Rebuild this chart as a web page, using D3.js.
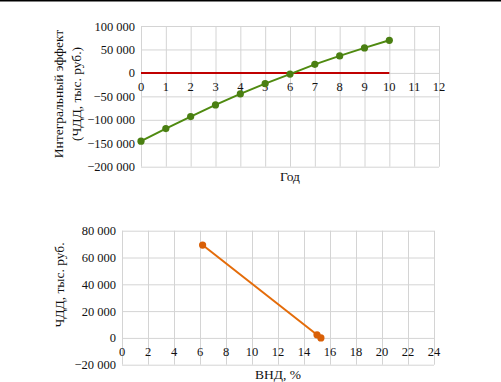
<!DOCTYPE html>
<html>
<head>
<meta charset="utf-8">
<script src="https://cdn.jsdelivr.net/npm/d3@7"></script>
<style>
  body { margin: 0; background: #fff; }
  svg, svg text { font-family: "Liberation Serif", "DejaVu Serif", serif; }
  svg { display: block; }
  .grid line { stroke: #d4d4d4; stroke-width: 1; }
  .grid path { display: none; }
  .tick text { font-size: 12.5px; fill: #111; }
  .title { font-size: 13.5px; fill: #111; }
</style>
</head>
<body>
<svg id="chart" width="501" height="382"></svg>
<script>
// Top chart: integral effect (NPV) by year
const years = [0, 1, 2, 3, 4, 5, 6, 7, 8, 9, 10];
const npv = [-145500, -118800, -93200, -68300, -44800, -22800, -2500, 18300, 36200, 53300, 69500];
const zeroLine = [[0, 0], [10, 0]];
const yearTicks = d3.range(0, 13, 1);
const npvTicks = [-200000, -150000, -100000, -50000, 0, 50000, 100000];

// Bottom chart: NPV vs IRR
const irr = [6.2, 15.0, 15.3];
const npvIrr = [69300, 2300, 0];
const irrTicks = d3.range(0, 25, 2);
const npvIrrTicks = [-20000, 0, 20000, 40000, 60000, 80000];

const loc = d3.formatLocale({decimal: ",", thousands: "\u00a0", grouping: [3], currency: ["", ""], minus: "\u2212"});
const fmt = loc.format(",d");

const svg = d3.select('#chart');

// thin frame line at the top
svg.append('line')
    .attr('x1', 0).attr('x2', 501)
    .attr('y1', 0.75).attr('y2', 0.75)
    .attr('stroke', '#000').attr('stroke-width', 1.5);

function drawChart(opt) {
    const x = d3.scaleLinear().domain(opt.xDomain).range(opt.xRange);
    const y = d3.scaleLinear().domain(opt.yDomain).range(opt.yRange);
    const g = svg.append('g');

    // vertical grid
    g.append('g')
        .attr('class', 'grid')
        .attr('transform', `translate(0,${opt.yRange[0]})`)
        .call(d3.axisBottom(x).tickValues(opt.xTicks)
            .tickSize(opt.yRange[1] - opt.yRange[0]).tickFormat(''));

    // horizontal grid + y labels
    const ya = g.append('g')
        .attr('class', 'grid')
        .attr('transform', `translate(${opt.xRange[0]},0)`)
        .call(d3.axisLeft(y).tickValues(opt.yTicks)
            .tickSize(opt.xRange[0] - opt.xRange[1]).tickFormat(fmt));
    ya.attr('font-family', null).attr('font-size', null);
    ya.selectAll('.tick text').attr('x', -6);

    // x labels sit under the zero line
    g.selectAll('.xlab')
        .data(opt.xTicks)
        .join('text')
        .attr('class', 'xlab')
        .attr('x', d => x(d))
        .attr('y', y(0) + 18)
        .attr('text-anchor', 'middle')
        .style('font-size', '12.5px')
        .attr('fill', '#111')
        .text(d => d);

    opt.draw(g, x, y);

    // axis titles
    g.append('text')
        .attr('class', 'title')
        .attr('x', (opt.xRange[0] + opt.xRange[1]) / 2)
        .attr('y', opt.xTitleY)
        .attr('text-anchor', 'middle')
        .text(opt.xTitle);

    opt.yTitle.forEach((t, i) => {
        g.append('text')
            .attr('class', 'title')
            .attr('transform', `translate(${opt.yTitleX[i]},${opt.yTitleCy}) rotate(-90)`)
            .attr('text-anchor', 'middle')
            .attr('dominant-baseline', 'middle')
            .text(t);
    });
}

drawChart({
    xDomain: [0, 12], xRange: [141, 439],
    yDomain: [-200000, 100000], yRange: [166.7, 26],
    xTicks: yearTicks, yTicks: npvTicks,
    xTitle: 'Год', xTitleY: 181,
    yTitle: ['Интегральный эффект', '(ЧДД, тыс. руб.)'],
    yTitleX: [60, 78], yTitleCy: 94,
    draw(g, x, y) {
        g.append('path')
            .datum(zeroLine)
            .attr('fill', 'none')
            .attr('stroke', '#c00000')
            .attr('stroke-width', 2)
            .attr('d', d3.line().x(d => x(d[0])).y(d => y(d[1])));
        const pts = years.map((d, i) => [d, npv[i]]);
        g.append('path')
            .datum(pts)
            .attr('fill', 'none')
            .attr('stroke', '#4f8a10')
            .attr('stroke-width', 2)
            .attr('d', d3.line().x(d => x(d[0])).y(d => y(d[1])));
        g.selectAll('.dot')
            .data(pts)
            .join('circle')
            .attr('cx', d => x(d[0]))
            .attr('cy', d => y(d[1]))
            .attr('r', 3.6)
            .attr('fill', '#4a7f12');
    }
});

drawChart({
    xDomain: [0, 24], xRange: [122, 434],
    yDomain: [-20000, 80000], yRange: [364.7, 230.7],
    xTicks: irrTicks, yTicks: npvIrrTicks,
    xTitle: 'ВНД, %', xTitleY: 379,
    yTitle: ['ЧДД, тыс. руб.'],
    yTitleX: [61], yTitleCy: 285,
    draw(g, x, y) {
        const pts = irr.map((d, i) => [d, npvIrr[i]]);
        g.append('path')
            .datum(pts)
            .attr('fill', 'none')
            .attr('stroke', '#e46c0a')
            .attr('stroke-width', 2)
            .attr('d', d3.line().x(d => x(d[0])).y(d => y(d[1])));
        g.selectAll('.dot')
            .data(pts)
            .join('circle')
            .attr('cx', d => x(d[0]))
            .attr('cy', d => y(d[1]))
            .attr('r', 3.6)
            .attr('fill', '#d95f06');
    }
});
</script>
</body>
</html>
